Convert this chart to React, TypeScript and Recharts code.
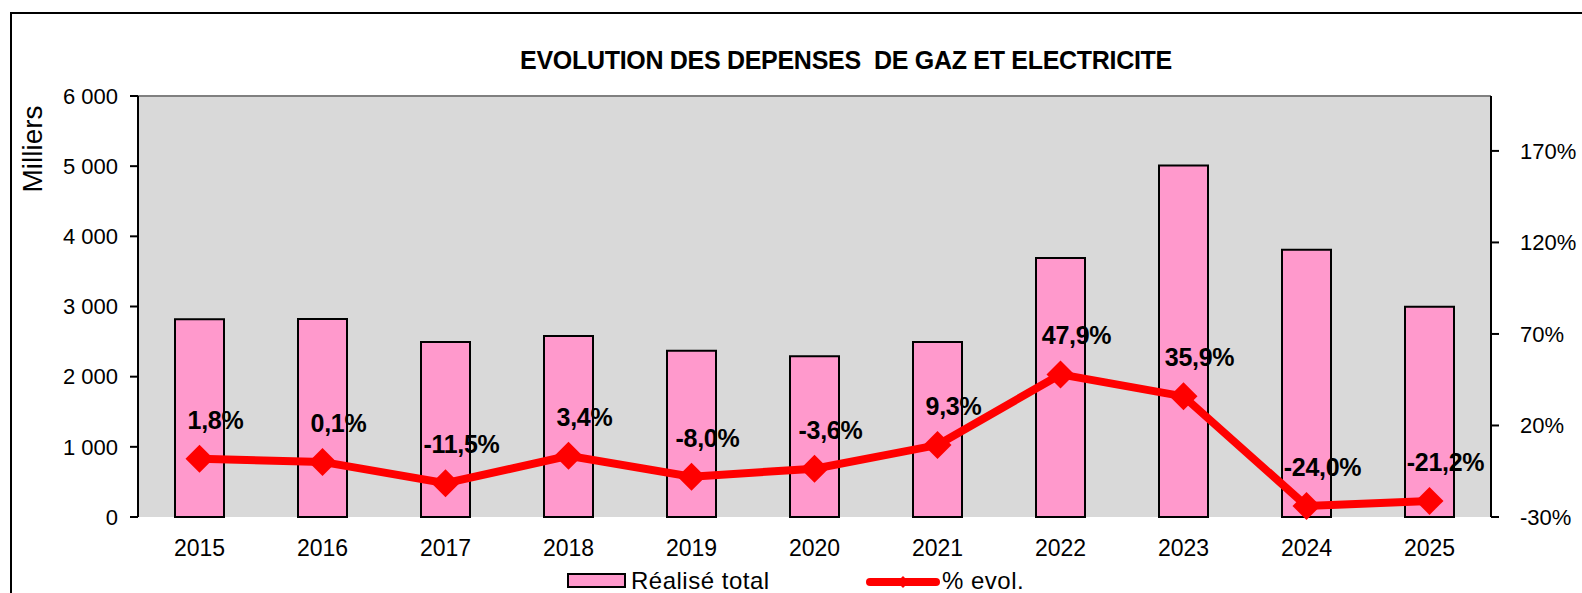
import { ComposedChart, Bar, Line, XAxis, YAxis, CartesianGrid, LabelList, ReferenceLine } from 'recharts'

const ANNEES = ['2015', '2016', '2017', '2018', '2019', '2020', '2021', '2022', '2023', '2024', '2025']
const REALISE = [2820, 2822, 2495, 2580, 2370, 2290, 2495, 3690, 5010, 3810, 2995]
const EVOL = [1.8, 0.1, -11.5, 3.4, -8.0, -3.6, 9.3, 47.9, 35.9, -24.0, -21.2]
const TICKS_GAUCHE = [0, 1000, 2000, 3000, 4000, 5000, 6000]
const TICKS_DROITE = [-30, 20, 70, 120, 170]
const BORNES = [0, 1, 2, 3, 4, 5, 6, 7, 8, 9, 10, 11]

const FONT = '"Liberation Sans", Arial, sans-serif'
const W = 1582
const H = 593

const data = ANNEES.map((a, i) => ({ annee: a, realise: REALISE[i], evol: EVOL[i] }))

const fmtMilliers = (v: number) => (v >= 1000 ? `${Math.floor(v / 1000)} ${String(v % 1000).padStart(3, '0')}` : String(v))
const fmtPct = (v: number) => `${v.toFixed(1).replace('.', ',')}%`

const TICK = { fontSize: 23, fill: '#000', fontFamily: FONT }
const TICK_Y = { fontSize: 22, fill: '#000', fontFamily: FONT }

function Losange(props: any) {
  const { cx, cy } = props
  if (cx == null || cy == null) return null
  const s = 14
  return <polygon points={`${cx},${cy - s} ${cx + s},${cy} ${cx},${cy + s} ${cx - s},${cy}`} fill="#FF0000" />
}

function Etiquette(props: any) {
  const { x, y, value } = props
  return (
    <text x={x + 16} y={y - 30} textAnchor="middle" fontFamily={FONT} fontWeight="bold" fontSize={25} letterSpacing={-0.3} fill="#000">
      {fmtPct(value)}
    </text>
  )
}

export default function App() {
  return (
    <div style={{ position: 'absolute', left: 0, top: 0, width: W, height: H, overflow: 'hidden', background: '#fff', fontFamily: FONT }}>
      <div style={{ position: 'absolute', left: 10, top: 12, width: W + 40, height: H + 40, border: '2px solid #000' }} />
      <div
        style={{
          position: 'absolute', left: 0, width: W, top: 46, textAlign: 'center', paddingLeft: 110, boxSizing: 'border-box',
          fontSize: 25, lineHeight: '29px', fontWeight: 'bold', letterSpacing: -0.3, whiteSpace: 'pre',
        }}
      >
        {'EVOLUTION DES DEPENSES  DE GAZ ET ELECTRICITE'}
      </div>
      <div style={{ position: 'absolute', left: 33, top: 149, transform: 'translate(-50%, -50%) rotate(-90deg)', fontSize: 28, whiteSpace: 'nowrap' }}>
        Milliers
      </div>
      <div style={{ position: 'absolute', left: 0, top: 0 }}>
        <ComposedChart width={W} height={H} data={data} margin={{ top: 96, right: 0, left: 0, bottom: 0 }}>
          <CartesianGrid fill="#D9D9D9" horizontal={false} vertical={false} yAxisId="g" />
          <XAxis
            xAxisId="b"
            type="number"
            domain={[0, 11]}
            ticks={BORNES}
            allowDataOverflow
            height={0}
            tickSize={8}
            tickFormatter={() => ''}
            stroke="#000"
            strokeWidth={2}
          />
          <XAxis dataKey="annee" height={76} axisLine={false} tickLine={false} tickSize={8} tickMargin={15} tick={TICK} interval={0} />
          <YAxis
            yAxisId="g"
            domain={[0, 6000]}
            ticks={TICKS_GAUCHE}
            width={138}
            tickFormatter={fmtMilliers}
            tick={TICK_Y}
            tickSize={8}
            tickMargin={12}
            stroke="#000"
            strokeWidth={2}
          />
          <YAxis
            yAxisId="d"
            orientation="right"
            domain={[-30, 200]}
            ticks={TICKS_DROITE}
            width={91}
            tickFormatter={(v: number) => `${v}%`}
            tick={TICK_Y}
            tickSize={8}
            tickMargin={21}
            stroke="#000"
            strokeWidth={2}
          />
          <ReferenceLine yAxisId="g" y={6000} stroke="#808080" strokeWidth={2} />
          <Bar yAxisId="g" dataKey="realise" fill="#FF99CC" stroke="#000" strokeWidth={2} barSize={49} isAnimationActive={false} />
          <Line
            yAxisId="d"
            dataKey="evol"
            stroke="#FF0000"
            strokeWidth={8}
            dot={<Losange />}
            activeDot={false}
            isAnimationActive={false}
          >
            <LabelList dataKey="evol" content={<Etiquette />} />
          </Line>
        </ComposedChart>
      </div>
      <div style={{ position: 'absolute', left: 567, top: 573, width: 59, height: 15, background: '#FF99CC', border: '2px solid #000', boxSizing: 'border-box' }} />
      <div style={{ position: 'absolute', left: 631, top: 567, fontSize: 24, lineHeight: '28px', letterSpacing: 0.5 }}>Réalisé total</div>
      <svg style={{ position: 'absolute', left: 866, top: 572 }} width={80} height={20}>
        <line x1={4} y1={10} x2={70} y2={10} stroke="#FF0000" strokeWidth={8} strokeLinecap="round" />
        <polygon points="37,4 43,10 37,16 31,10" fill="#FF0000" />
      </svg>
      <div style={{ position: 'absolute', left: 942, top: 567, fontSize: 24, lineHeight: '28px', letterSpacing: 0.5 }}>% evol.</div>
    </div>
  )
}
